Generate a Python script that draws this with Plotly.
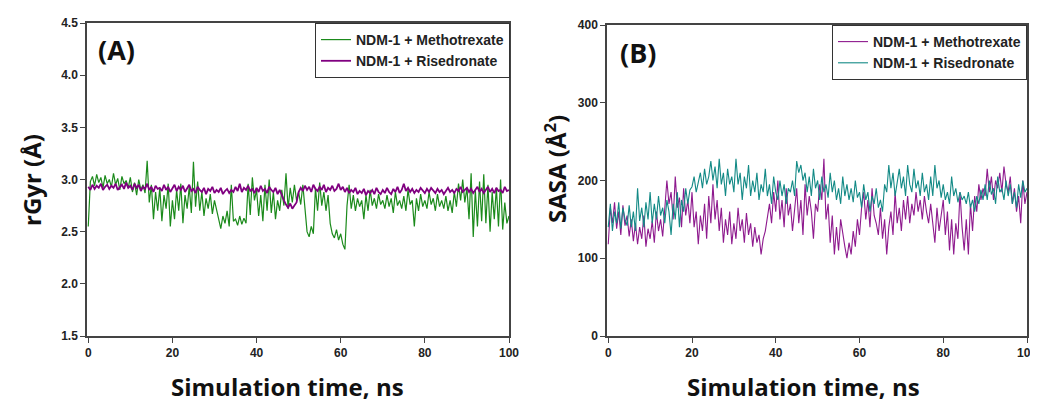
import plotly.graph_objects as go

# time axis (ns), 0.5 ns steps
time_ns = [i * 0.5 for i in range(201)]

rgyr_methotrexate = [
    2.55, 2.98, 3.03, 2.94, 3.05, 2.97, 3.02, 2.92, 3.04, 2.96,
    3.00, 2.93, 3.06, 2.95, 3.01, 2.90, 3.03, 2.96, 2.99, 2.92,
    3.02, 2.88, 2.97, 2.85, 3.00, 2.90, 2.95, 2.87, 3.18, 2.78,
    2.95, 2.62, 2.88, 2.70, 2.92, 2.60, 2.85, 2.72, 2.96, 2.55,
    2.80, 2.62, 2.90, 2.70, 2.96, 2.58, 2.85, 2.72, 2.93, 2.68,
    3.17, 2.74, 2.98, 2.70, 2.88, 2.65, 2.82, 2.72, 2.86, 2.67,
    2.80, 2.70, 2.60, 2.53, 2.65, 2.58, 2.70, 2.55, 2.95, 2.60,
    2.62, 2.56, 2.65, 2.57, 2.63, 2.58, 2.96, 2.66, 3.02, 2.80,
    2.90, 2.65, 2.85, 2.60, 2.95, 2.70, 3.00, 2.68, 2.88, 2.62,
    2.80, 2.70, 2.90, 2.75, 3.06, 2.72, 2.92, 2.78, 2.95, 2.80,
    2.88, 2.76, 2.95, 2.70, 2.50, 2.45, 2.55, 2.48, 2.92, 2.70,
    2.97, 2.75, 2.88, 2.70, 2.85, 2.58, 2.48, 2.44, 2.52, 2.42,
    2.48, 2.38, 2.33, 2.75, 2.95, 2.72, 2.85, 2.70, 2.82, 2.74,
    2.80, 2.62, 2.85, 2.70, 2.90, 2.75, 2.82, 2.72, 2.86, 2.76,
    2.80, 2.72, 2.85, 2.74, 2.82, 2.68, 2.88, 2.75, 2.80, 2.72,
    2.84, 2.70, 2.90, 2.76, 2.80, 2.55, 2.82, 2.70, 2.86, 2.74,
    2.80, 2.72, 2.88, 2.76, 2.82, 2.70, 2.86, 2.74, 2.80, 2.72,
    2.84, 2.70, 2.80, 2.68, 2.88, 2.74, 2.96, 2.80, 3.00, 2.78,
    2.92, 2.62, 3.06, 2.45, 2.90, 2.55, 2.98, 2.60, 3.05, 2.58,
    2.95, 2.50, 2.88, 2.62, 2.92, 2.55, 3.00, 2.52, 2.78, 2.58,
    2.65,
]

rgyr_risedronate = [
    2.93, 2.90, 2.95, 2.91, 2.94, 2.92, 2.96, 2.90, 2.93, 2.95,
    2.91, 2.94, 2.92, 2.96, 2.90, 2.93, 2.95, 2.91, 2.97, 2.92,
    2.94, 2.90, 2.96, 2.92, 2.95, 2.89, 2.93, 2.91, 2.96, 2.90,
    2.93, 2.88, 2.94, 2.91, 2.92, 2.89, 2.95, 2.90, 2.93, 2.88,
    2.92, 2.95, 2.89, 2.93, 2.90, 2.94, 2.88, 2.92, 2.95, 2.89,
    2.91, 2.87, 2.93, 2.90, 2.88, 2.92, 2.86, 2.91, 2.89, 2.93,
    2.87, 2.90, 2.88, 2.92, 2.86, 2.89, 2.91, 2.87, 2.90, 2.88,
    2.93, 2.89, 2.96, 2.88, 2.92, 2.90, 2.94, 2.89, 2.91, 2.87,
    2.92, 2.88, 2.94, 2.89, 2.91, 2.87, 2.93, 2.90, 2.88, 2.92,
    2.86, 2.90, 2.84, 2.80, 2.76, 2.73, 2.77, 2.72, 2.75, 2.78,
    2.88, 2.92, 2.89, 2.94, 2.90, 2.93, 2.88, 2.95, 2.91, 2.89,
    2.93, 2.90, 2.95, 2.88, 2.92, 2.90, 2.94, 2.89, 2.91, 2.96,
    2.90, 2.93, 2.88, 2.92, 2.87, 2.90, 2.88, 2.92, 2.86, 2.89,
    2.87, 2.91, 2.85, 2.89, 2.87, 2.90, 2.86, 2.92, 2.88, 2.86,
    2.90, 2.87, 2.92, 2.88, 2.86, 2.91, 2.88, 2.93, 2.87, 2.90,
    2.96, 2.89, 2.92, 2.88, 2.91, 2.87, 2.90, 2.88, 2.92, 2.89,
    2.87, 2.91, 2.88, 2.92, 2.89, 2.87, 2.91, 2.88, 2.90, 2.86,
    2.89, 2.92, 2.88, 2.90, 2.87, 2.91, 2.89, 2.93, 2.88, 2.90,
    2.92, 2.88, 2.91, 2.87, 2.90, 2.93, 2.88, 2.91, 2.87, 2.90,
    2.93, 2.88, 2.91, 2.87, 2.92, 2.89, 2.90, 2.87, 2.93, 2.89,
    2.90,
]

sasa_methotrexate = [
    118, 165, 145, 172, 138, 160, 130, 168, 142, 155,
    128, 150, 122, 145, 118, 140, 125, 155, 115, 138,
    125, 148, 120, 160, 135, 150, 128, 165, 200, 170,
    185, 150, 205, 165, 178, 140, 190, 155, 175, 145,
    185, 140, 160, 118, 155, 135, 170, 125, 180, 145,
    195, 150, 175, 135, 165, 120, 150, 130, 160, 118,
    145, 125, 165, 135, 150, 120, 158, 130, 145, 115,
    140, 120, 130, 105, 125, 135, 150, 170, 145, 185,
    160, 200, 150, 175, 140, 190, 155, 170, 135, 160,
    190, 145, 175, 130, 195, 155, 180, 160, 125, 170,
    160, 195, 175, 228, 150, 170, 120, 155, 105, 140,
    110, 150, 130, 115, 100, 120, 105, 135, 115, 150,
    130, 165, 185, 150, 175, 140, 190, 155, 145, 130,
    165, 125, 150, 105, 140, 160, 130, 185, 145, 165,
    135, 175, 150, 180, 145, 170, 155, 185, 160, 175,
    150, 180, 160, 145, 170, 140, 120, 165, 135, 155,
    175, 130, 160, 110, 150, 105, 145, 125, 185, 140,
    110, 150, 105, 170, 135, 180, 160, 195, 175, 190,
    180, 215, 185, 205, 175, 200, 190, 210, 185, 218,
    195, 185, 205, 170, 190, 160, 180, 145, 200, 170,
    185,
]

sasa_risedronate = [
    140, 170, 135, 160, 145, 172, 138, 165, 150, 142,
    168, 140, 160, 135, 190, 148, 165, 140, 172, 150,
    185, 145, 170, 150, 180, 155, 165, 145, 175, 160,
    130, 170, 150, 185, 140, 175, 160, 190, 170, 188,
    192, 205, 185, 200, 210, 190, 215, 195, 205, 225,
    200, 218, 190, 228, 195, 210, 180, 215, 195, 205,
    185, 228, 195, 210, 175, 205, 190, 220, 180, 200,
    185, 210, 175, 195, 185, 215, 180, 195, 170, 205,
    185, 175, 200, 180, 195, 170, 190, 185, 200, 180,
    225, 210, 220, 200, 210, 185, 205, 180, 215, 190,
    200, 175, 205, 185, 195, 178, 210, 185, 200, 175,
    190, 170, 205, 180, 195, 175, 190, 172, 200, 178,
    185, 165, 195, 175, 185, 160, 180, 170, 190, 165,
    175, 160, 195, 185, 220, 190, 210, 180, 200, 215,
    190, 205, 180, 220, 195, 185, 215, 190, 200, 180,
    210, 185, 195, 175, 205, 180, 220, 190, 200, 178,
    195, 175, 185, 170, 205, 180, 190, 172, 185, 175,
    180, 170, 185, 165, 175, 160, 180, 170, 188, 175,
    195, 175, 200, 182, 190, 170, 205, 185, 190, 175,
    200, 180, 195, 170, 185, 165, 195, 178, 200, 185,
    190,
]

x_ticks = [0, 20, 40, 60, 80, 100]
rgyr_ticks = [1.5, 2.0, 2.5, 3.0, 3.5, 4.0, 4.5]
sasa_ticks = [0, 100, 200, 300, 400]

GREEN = "#1b8a1b"
PURPLE = "#800080"
PURPLE_B = "#8e1a8e"
TEAL = "#138a86"

# the page has an 8 px body margin; the figure covers the visible window from there
OFF = 8
W, H = 1030, 395

def px_x(p):
    return (p - OFF) / W

def px_y(p):
    return 1 - (p - OFF) / H

fig = go.Figure()
fig.add_trace(go.Scatter(x=time_ns, y=rgyr_methotrexate, mode="lines",
                         line=dict(color=GREEN, width=1.2),
                         name="NDM-1 + Methotrexate", xaxis="x", yaxis="y", legend="legend"))
fig.add_trace(go.Scatter(x=time_ns, y=rgyr_risedronate, mode="lines",
                         line=dict(color=PURPLE, width=1.8),
                         name="NDM-1 + Risedronate", xaxis="x", yaxis="y", legend="legend"))
fig.add_trace(go.Scatter(x=time_ns, y=sasa_methotrexate, mode="lines",
                         line=dict(color=PURPLE_B, width=1.1),
                         name="NDM-1 + Methotrexate", xaxis="x2", yaxis="y2", legend="legend2"))
fig.add_trace(go.Scatter(x=time_ns, y=sasa_risedronate, mode="lines",
                         line=dict(color=TEAL, width=1.1),
                         name="NDM-1 + Risedronate", xaxis="x2", yaxis="y2", legend="legend2"))

tickfont = dict(family="Liberation Sans, Arial", size=12, color="#222", weight="bold")
axis_common = dict(showline=True, linecolor="#444", linewidth=1.5, mirror=True,
                   ticks="outside", ticklen=5, tickcolor="#444", tickwidth=1.2,
                   showgrid=False, zeroline=False, tickfont=tickfont, automargin=False)

legend_common = dict(bgcolor="white", bordercolor="#333", borderwidth=1,
                     font=dict(family="Liberation Sans, Arial", size=14, color="#222", weight="bold"),
                     xanchor="right", yanchor="top", tracegroupgap=0)

fig.update_layout(
    width=W, height=H,
    margin=dict(l=0, r=0, t=0, b=0, pad=0),
    paper_bgcolor="white", plot_bgcolor="white",
    showlegend=True,
    xaxis=dict(domain=[px_x(87), px_x(509)], range=[-0.3, 100], tickvals=x_ticks,
               anchor="y", **axis_common),
    yaxis=dict(domain=[px_y(336), px_y(23)], range=[1.5, 4.5], tickvals=rgyr_ticks,
               tickformat=".1f", anchor="x", **axis_common),
    xaxis2=dict(domain=[px_x(607), px_x(1027)], range=[-0.3, 100], tickvals=x_ticks,
                anchor="y2", **axis_common),
    yaxis2=dict(domain=[px_y(336), px_y(25)], range=[0, 400], tickvals=sasa_ticks,
                anchor="x2", **axis_common),
    legend=dict(x=px_x(510), y=px_y(23), **legend_common),
    legend2=dict(x=px_x(1027), y=px_y(25), **legend_common),
)

title_font = dict(family="Open Sans", size=24, color="#111", weight="bold")
annots = [
    dict(text="(A)", x=px_x(116), y=px_y(49), font=dict(family="Open Sans", size=27, color="#111", weight="bold")),
    dict(text="(B)", x=px_x(638), y=px_y(53), font=dict(family="Open Sans", size=27, color="#111", weight="bold")),
    dict(text="Simulation time, ns", x=px_x(287), y=px_y(386.5), font=title_font),
    dict(text="Simulation time, ns", x=px_x(803), y=px_y(386.5), font=title_font),
    dict(text="rGyr (Å)", x=px_x(31), y=px_y(180), textangle=-90, font=title_font),
    dict(text="SASA (Å<sup>2</sup>)", x=px_x(556), y=px_y(169), textangle=-90, font=title_font),
]
for a in annots:
    fig.add_annotation(xref="paper", yref="paper", showarrow=False,
                       xanchor="center", yanchor="middle", **a)

fig.write_html("out.html")
